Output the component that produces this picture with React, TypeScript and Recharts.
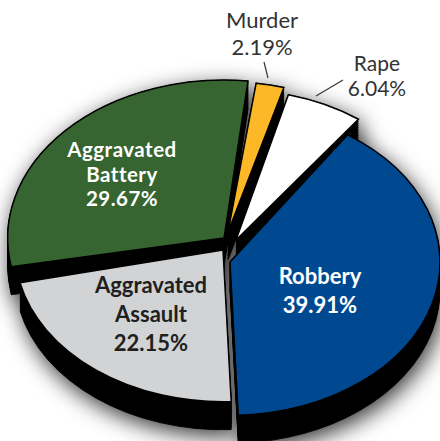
import { PieChart, Pie, Cell, Sector } from 'recharts';

const crimes = ['Robbery', 'Aggravated Assault', 'Aggravated Battery', 'Murder', 'Rape'];
const shares = [39.91, 22.15, 29.67, 2.19, 6.04];
const labelLines = [['Robbery'], ['Aggravated', 'Assault'], ['Aggravated', 'Battery'], ['Murder'], ['Rape']];

const colors = ['#004990', '#D1D3D4', '#376531', '#FDB827', '#FFFFFF'];
const labelColors = ['#FFFFFF', '#1F1F1F', '#FFFFFF', '#333333', '#333333'];
const boldLabel = [true, true, true, false, false];

// how far each wedge is pulled out of the pie, in px
const explode = [
  { x: 0, y: 0 },
  { x: -7, y: -12 },
  { x: -6, y: -24 },
  { x: -2, y: -30 },
  { x: 6, y: -22 },
];
const radiusScale = [1, 0.99, 1.03, 0.98, 0.98];
// the original is drawn in perspective, so wedges sit a little off their flat angle
const angleNudge = [-2, -2, 0, 1.5, 0.5];
// label anchor and where the leader line goes, screen px
const labelPos = [
  { x: 320, y: 275, step: 29 },
  { x: 151, y: 284, step: 29 },
  { x: 122, y: 149, step: 24.7 },
  { x: 262, y: 19, step: 27 },
  { x: 377, y: 62, step: 25 },
];
const labelSize = [22, 22, 20.5, 22, 21];
const labelSpacing = [0, 0, 0.5, 0, 0];
const leaders: (number[] | null)[] = [null, null, null, [264, 62, 268, 78], [343, 80, 316, 96]];

const TILT = 0.73;
const DEPTH = 28;
const CX = 230;
const CY = 262;
const RADIUS = 210;

const data = crimes.map((name, i) => ({ name, value: shares[i] }));

function wedgeTransform(props: any, i: number, drop: number) {
  const s = radiusScale[i];
  const e = explode[i];
  return `translate(${props.cx + e.x},${props.cy + e.y + drop}) scale(${s},${TILT * s}) translate(${-props.cx},${-props.cy})`;
}

function Side(props: any) {
  const i = crimes.indexOf(props.name);
  const steps = [];
  for (let d = 0; d <= DEPTH; d += 2) steps.push(d);
  return (
    <g style={{ filter: 'drop-shadow(3px 6px 11px rgba(0,0,0,0.8))' }}>
      {steps.map((d) => (
        <g key={d} transform={wedgeTransform(props, i, d)}>
          <Sector
            cx={props.cx}
            cy={props.cy}
            innerRadius={0}
            outerRadius={props.outerRadius}
            startAngle={props.startAngle - angleNudge[i]}
            endAngle={props.endAngle - angleNudge[i]}
            fill="#000000"
            stroke="#000000"
            strokeWidth={1}
          />
        </g>
      ))}
    </g>
  );
}

function Top(props: any) {
  const i = crimes.indexOf(props.name);
  return (
    <g transform={wedgeTransform(props, i, 0)}>
      <Sector
        cx={props.cx}
        cy={props.cy}
        innerRadius={0}
        outerRadius={props.outerRadius}
        startAngle={props.startAngle - angleNudge[i]}
        endAngle={props.endAngle - angleNudge[i]}
        fill={colors[i]}
        stroke="#000000"
        strokeWidth={1.5}
        vectorEffect="non-scaling-stroke"
      />
    </g>
  );
}

function SliceLabel(props: any) {
  const i = crimes.indexOf(props.name);
  const pos = labelPos[i];
  const lines = [...labelLines[i], `${shares[i].toFixed(2)}%`];
  const leader = leaders[i];
  return (
    <g>
      {leader && <line x1={leader[0]} y1={leader[1]} x2={leader[2]} y2={leader[3]} stroke="#333333" strokeWidth={1.2} />}
      {lines.map((line, n) => (
        <text
          key={n}
          x={pos.x}
          y={pos.y + n * pos.step}
          textAnchor="middle"
          dominantBaseline="central"
          fill={labelColors[i]}
          fontFamily="Lato, sans-serif"
          fontWeight={boldLabel[i] ? 700 : 400}
          fontSize={labelSize[i]}
          letterSpacing={labelSpacing[i]}
        >
          {line}
        </text>
      ))}
    </g>
  );
}

export default function App() {
  return (
    <div style={{ position: 'absolute', left: 0, top: 0, width: 440, height: 441, overflow: 'hidden', background: '#fff' }}>
      <PieChart width={440} height={441} margin={{ top: 0, right: 0, bottom: 0, left: 0 }}>
        <Pie
          data={data}
          dataKey="value"
          nameKey="name"
          cx={CX}
          cy={CY}
          innerRadius={0}
          outerRadius={RADIUS}
          startAngle={54}
          endAngle={-306}
          paddingAngle={0}
          isAnimationActive={false}
          shape={Side}
        />
        <Pie
          data={data}
          dataKey="value"
          nameKey="name"
          cx={CX}
          cy={CY}
          innerRadius={0}
          outerRadius={RADIUS}
          startAngle={54}
          endAngle={-306}
          paddingAngle={0}
          isAnimationActive={false}
          shape={Top}
          label={SliceLabel}
          labelLine={false}
        >
          {crimes.map((name, i) => (
            <Cell key={name} fill={colors[i]} />
          ))}
        </Pie>
      </PieChart>
    </div>
  );
}
